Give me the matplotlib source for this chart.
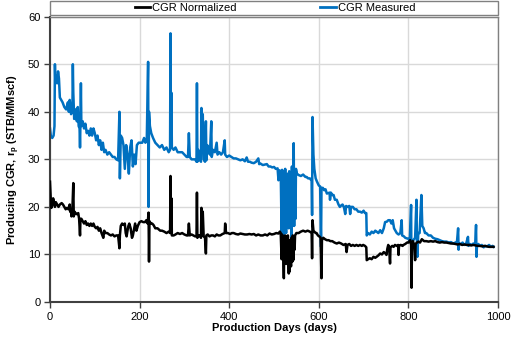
import matplotlib
matplotlib.use("Agg")
import matplotlib.pyplot as plt
from matplotlib.patches import Rectangle
from matplotlib.lines import Line2D

plt.rcParams['font.family'] = ['Liberation Sans', 'DejaVu Sans']

# CGR Measured (blue)
meas_days = [0, 2, 5, 8, 10, 11, 12, 14, 16, 18, 20, 22, 25, 28, 32, 36, 40, 42, 44, 47,
             50, 51, 52, 54, 57, 60, 62, 64, 66, 67, 68, 69, 70, 73, 76, 79, 82, 85, 88, 91,
             94, 97, 100, 103, 106, 109, 112, 115, 118, 121, 124, 128, 132, 136, 140, 144, 148, 152, 155, 156,
             158, 161, 164, 167, 170, 173, 176, 179, 182, 185, 188, 191, 194, 198, 202, 206, 210, 213, 216, 219,
             220, 221, 223, 226, 230, 235, 240, 245, 250, 255, 260, 265, 268, 269, 270, 271, 272, 276, 280, 285,
             290, 295, 300, 305, 308, 310, 312, 316, 320, 324, 327, 328, 329, 331, 334, 337, 338, 339, 341, 343,
             346, 348, 349, 351, 354, 357, 360, 361, 364, 368, 372, 374, 378, 382, 386, 390, 391, 395, 400, 405,
             410, 415, 420, 425, 430, 435, 439, 442, 446, 450, 455, 460, 465, 467, 470, 475, 480, 484, 488, 492,
             496, 500, 504, 508, 510, 512, 515, 517, 518, 520, 521, 522, 524, 525, 527, 528, 530, 531, 533, 534,
             536, 537, 539, 540, 541, 543, 544, 545, 546, 548, 549, 551, 555, 560, 565, 570, 573, 576, 580, 584,
             585, 586, 588, 590, 593, 596, 600, 603, 605, 606, 609, 612, 615, 618, 621, 624, 625, 627, 630, 633,
             636, 640, 644, 647, 650, 653, 656, 659, 661, 664, 668, 670, 672, 676, 680, 684, 688, 692, 696, 700,
             703, 706, 707, 710, 714, 718, 722, 726, 729, 733, 737, 741, 745, 748, 752, 755, 759, 762, 765, 768,
             771, 774, 778, 782, 785, 786, 790, 793, 796, 800, 803, 806, 807, 808, 811, 815, 818, 819, 820, 822,
             825, 829, 831, 834, 837, 840, 845, 850, 855, 860, 865, 870, 875, 880, 885, 890, 895, 900, 905, 908,
             911, 912, 913, 917, 921, 925, 929, 933, 934, 937, 941, 945, 949, 951, 952, 953, 956, 960, 964, 968,
             972, 976, 980, 984, 988, 990]
meas_vals = [36.5, 34.8, 34.5, 35, 37, 50, 46, 47.5, 46, 48.5, 47, 43, 42.5, 42, 41, 40.5, 42, 40, 42.5, 39.5,
             40, 50, 44, 38.5, 40.5, 38, 41, 37, 36.5, 32.5, 38, 46, 37, 38, 36.5, 37.5, 35.5, 36, 35, 36.5,
             35, 36.5, 35.5, 34, 35, 33, 34, 32, 33.5, 31.5, 32, 31, 31.5, 31, 30.5, 30.5, 30, 29.8, 40, 26,
             35, 34.5, 33, 28, 33, 31, 27, 32.5, 34, 28.5, 31, 29, 33, 33.5, 33.5, 33.5, 34.5, 33.5, 34, 50.5,
             20, 40, 37, 35.5, 34.5, 33.5, 33, 32.5, 33, 32, 32.5, 31.5, 32, 56.5, 33, 44, 32.5, 32, 32.5, 31.5,
             31.5, 31.5, 31, 30.5, 30.5, 35.5, 30.5, 30, 30, 30, 29.5, 46, 29.5, 32, 30, 29.5, 40.8, 33, 39.5, 30,
             29.5, 38, 29.8, 33, 31.5, 31, 38, 30.5, 32, 31.5, 33.5, 31, 31.5, 31, 31.5, 34, 31, 30.5, 30.8, 30.5,
             30.2, 30.2, 30, 29.8, 30, 29.6, 30.4, 29.5, 29.5, 29.3, 29.2, 29.5, 30.2, 29, 29.1, 28.8, 28.9, 29, 28.5, 28.5,
             28.3, 28.4, 28.0, 28.1, 25.6, 27.7, 27.5, 14.5, 27.8, 27.5, 12.4, 26, 18, 28, 14.5, 26.5, 20, 27, 15.5, 27.5,
             18, 26, 13, 28.5, 16, 27, 33.4, 16, 27, 17.5, 28, 27, 26.7, 26.5, 26.8, 26.3, 26.3, 26, 26, 25.5,
             18.3, 38.9, 31, 28, 26, 25.3, 24.5, 24.3, 11.6, 24, 24, 23.5, 23.7, 22.8, 22.9, 23, 21.5, 23, 22.5, 22.5,
             21.5, 21.5, 20.5, 20, 20.3, 20.5, 20, 18.5, 20.2, 20, 20.2, 18.5, 20, 20, 19.5, 19.5, 19, 19, 18.8, 19.2,
             18.7, 18.7, 14, 14.5, 14.2, 14.8, 14.5, 15, 14.8, 14.5, 15.1, 14.5, 15.5, 16.8, 16.9, 17.2, 17.2, 16.5, 17.2, 15.5,
             15, 14.5, 14.2, 14.5, 17.2, 14, 13.8, 13.5, 13.4, 13.3, 12.8, 20.4, 3.2, 12.5, 13, 13.5, 21.5, 13, 9.5, 14.5,
             14.5, 22.5, 16, 15.5, 14.5, 14.5, 14, 14, 13.5, 13.3, 13.2, 13, 12.8, 12.7, 12.7, 12.5, 12.6, 12.3, 12.5, 12.2,
             15.5, 11, 12.3, 12.2, 12.5, 12, 12.3, 13.7, 11.8, 12.2, 12, 12.3, 12, 16.2, 9.5, 11.8, 12.2, 11.8, 12, 11.5,
             11.8, 11.7, 12, 11.6, 11.8, 11.6]

# CGR Normalized (black)
norm_days = [0, 2, 3, 5, 7, 9, 11, 13, 16, 19, 22, 26, 29, 32, 35, 38, 41, 44, 45, 47,
             48, 50, 52, 53, 55, 58, 61, 63, 65, 67, 68, 70, 73, 76, 79, 82, 85, 88, 91, 94,
             97, 100, 103, 106, 109, 112, 115, 119, 121, 124, 128, 132, 136, 140, 144, 148, 152, 155, 156, 158,
             161, 164, 167, 169, 171, 173, 175, 177, 180, 183, 185, 188, 190, 193, 196, 200, 204, 208, 212, 215,
             218, 220, 221, 222, 225, 228, 231, 235, 240, 246, 250, 255, 260, 265, 268, 269, 270, 271, 272, 276,
             280, 285, 290, 295, 300, 305, 308, 310, 312, 316, 320, 324, 327, 328, 329, 331, 334, 337, 338, 339,
             341, 343, 346, 348, 349, 352, 356, 360, 364, 368, 372, 376, 380, 385, 390, 391, 393, 397, 402, 406,
             410, 415, 420, 425, 430, 435, 440, 445, 450, 455, 460, 465, 470, 475, 480, 485, 490, 495, 500, 505,
             510, 513, 515, 517, 518, 520, 522, 523, 525, 527, 528, 530, 531, 533, 534, 535, 536, 538, 539, 541,
             542, 543, 544, 546, 547, 550, 555, 560, 565, 570, 575, 580, 584, 585, 586, 588, 590, 593, 595, 598,
             601, 604, 606, 607, 610, 614, 618, 622, 626, 630, 635, 640, 645, 650, 655, 660, 662, 664, 668, 672,
             676, 680, 684, 688, 692, 696, 699, 703, 706, 707, 710, 714, 718, 722, 726, 729, 733, 737, 741, 745,
             749, 751, 753, 755, 757, 759, 760, 764, 767, 770, 774, 777, 778, 779, 783, 787, 789, 793, 797, 800,
             804, 806, 807, 808, 810, 813, 815, 816, 819, 822, 826, 830, 835, 840, 845, 850, 855, 860, 865, 870,
             875, 880, 885, 890, 895, 900, 905, 910, 915, 920, 925, 930, 935, 940, 945, 950, 955, 960, 965, 970,
             975, 980, 985, 990]
norm_vals = [25.3, 21, 19.8, 20.5, 21.8, 21, 20, 21, 20.5, 20, 20.5, 20.8, 20.5, 20, 19.5, 19.8, 19.5, 20.5, 19, 19,
             18, 19.5, 25, 18, 19, 18.5, 18.5, 18.7, 17.5, 14, 17.5, 17.5, 17, 16.5, 17, 16.2, 16.5, 16, 16.5, 16,
             16.5, 15.8, 15.5, 15.8, 15, 15.5, 14.5, 13.5, 15, 14.5, 14.5, 14.2, 14, 14.2, 13.8, 14, 14, 11.3, 14, 16,
             16.5, 16.2, 16.5, 14.5, 13.8, 15, 16, 16.5, 15.5, 13.5, 14, 15.5, 16.5, 15, 16, 16.8, 17, 16.8, 16.8, 17.2,
             16.5, 18.8, 8.5, 17, 16.5, 16.5, 16.2, 15.5, 15.5, 15, 15, 14.8, 14.5, 14.8, 14.5, 26.5, 14.5, 21.8, 14, 14,
             14.2, 14.5, 14.3, 14.5, 14.2, 14, 14, 16.5, 14, 14.2, 14, 13.8, 13.8, 23, 13.5, 14, 14, 13.5, 19.8, 14,
             19, 13.8, 13.5, 10.2, 14, 14.2, 13.8, 14, 14, 13.8, 14.2, 14, 14, 14.3, 14.5, 16.5, 14.5, 14.5, 14.3, 14.5,
             14.5, 14.3, 14.2, 14.4, 14.3, 14.2, 14.2, 14.3, 14.2, 14.3, 14, 14.2, 14, 14, 14.2, 14, 14.4, 14.2, 14.3, 14.5,
             14.4, 14.8, 14.5, 9, 14.2, 13.5, 5, 13, 14, 8, 13.5, 10, 14, 6, 13, 6.4, 12, 7.5, 13.5, 8.5,
             14, 8.8, 13, 11, 14, 14.5, 14.5, 14.8, 15, 14.8, 15, 14.8, 14.5, 9.2, 17.2, 15, 14.8, 14.5, 14.5, 14,
             13.8, 13.5, 5, 13, 13.5, 13.2, 13, 13, 12.8, 12.8, 12.5, 12.3, 12.5, 12.3, 12, 12.2, 10.5, 12, 12.2, 11.8,
             12, 11.8, 12, 11.8, 12, 11.8, 12, 11.8, 11.5, 8.8, 9, 9.2, 9, 9.5, 9.3, 9.5, 9.8, 10.2, 10, 10.5,
             10.2, 9.9, 11.2, 12, 11.5, 8.1, 11.5, 11.8, 11.6, 12, 11.8, 12, 9.9, 11.8, 12, 11.8, 12, 12.2, 12.5, 12.5,
             13, 12, 3, 12.5, 12.8, 12, 8.8, 12.2, 12.5, 12.7, 12.5, 13.2, 12.8, 12.8, 12.7, 12.8, 12.7, 12.8, 12.6, 12.5,
             12.6, 12.5, 12.5, 12.4, 12.3, 12.3, 12.2, 12.1, 12.2, 12, 12.1, 12, 12, 11.9, 12, 11.9, 11.8, 11.8, 11.7, 11.8,
             11.7, 11.6, 11.6, 11.6]

x_ticks = [0, 200, 400, 600, 800, 1000]
y_ticks = [0, 10, 20, 30, 40, 50, 60]
series_labels = ["CGR Normalized", "CGR Measured"]

W, H = 516, 337
fig = plt.figure(figsize=(W / 100, H / 100), dpi=100)
ax = fig.add_axes([50 / W, 1 - 302 / H, 448 / W, (302 - 16.7) / H])

blue = "#0070C0"
ax.plot(norm_days, norm_vals, color="black", lw=1.8, zorder=3)
ax.plot(meas_days, meas_vals, color=blue, lw=1.8, zorder=2)

ax.set_xlim(0, 1000)
ax.set_ylim(0, 60)
ax.set_xticks(x_ticks)
ax.set_yticks(y_ticks)
ax.grid(True, color="#D9D9D9", lw=1.0, zorder=0)
ax.set_axisbelow(True)
for s in ["top", "right"]:
    ax.spines[s].set_color("#808080")
    ax.spines[s].set_linewidth(1.0)
for s in ["left", "bottom"]:
    ax.spines[s].set_color("#404040")
    ax.spines[s].set_linewidth(1.5)
ax.tick_params(axis="both", labelsize=8, length=4, width=1, color="#404040", pad=3)

ax.set_xlabel("Production Days (days)", fontsize=8, fontweight="bold", labelpad=1)
ax.set_ylabel(r"Producing CGR, r$_\mathregular{p}$ (STB/MMscf)", fontsize=8,
              fontweight="bold", labelpad=4)

# legend box
rect = Rectangle((50 / W, 1 - 15 / H), 448 / W, 14.5 / H, transform=fig.transFigure,
                 facecolor="white", edgecolor="#808080", lw=1.0)
fig.patches.append(rect)
handles = [Line2D([], [], color="black", lw=2), Line2D([], [], color=blue, lw=2)]
fig.legend(handles, series_labels, loc="center", bbox_to_anchor=(275 / W, 1 - 7.8 / H),
           ncol=2, frameon=False, fontsize=8, handlelength=1.4, handletextpad=0.2,
           columnspacing=7.5, borderpad=0, borderaxespad=0)

fig.savefig("out.png", dpi=100)
